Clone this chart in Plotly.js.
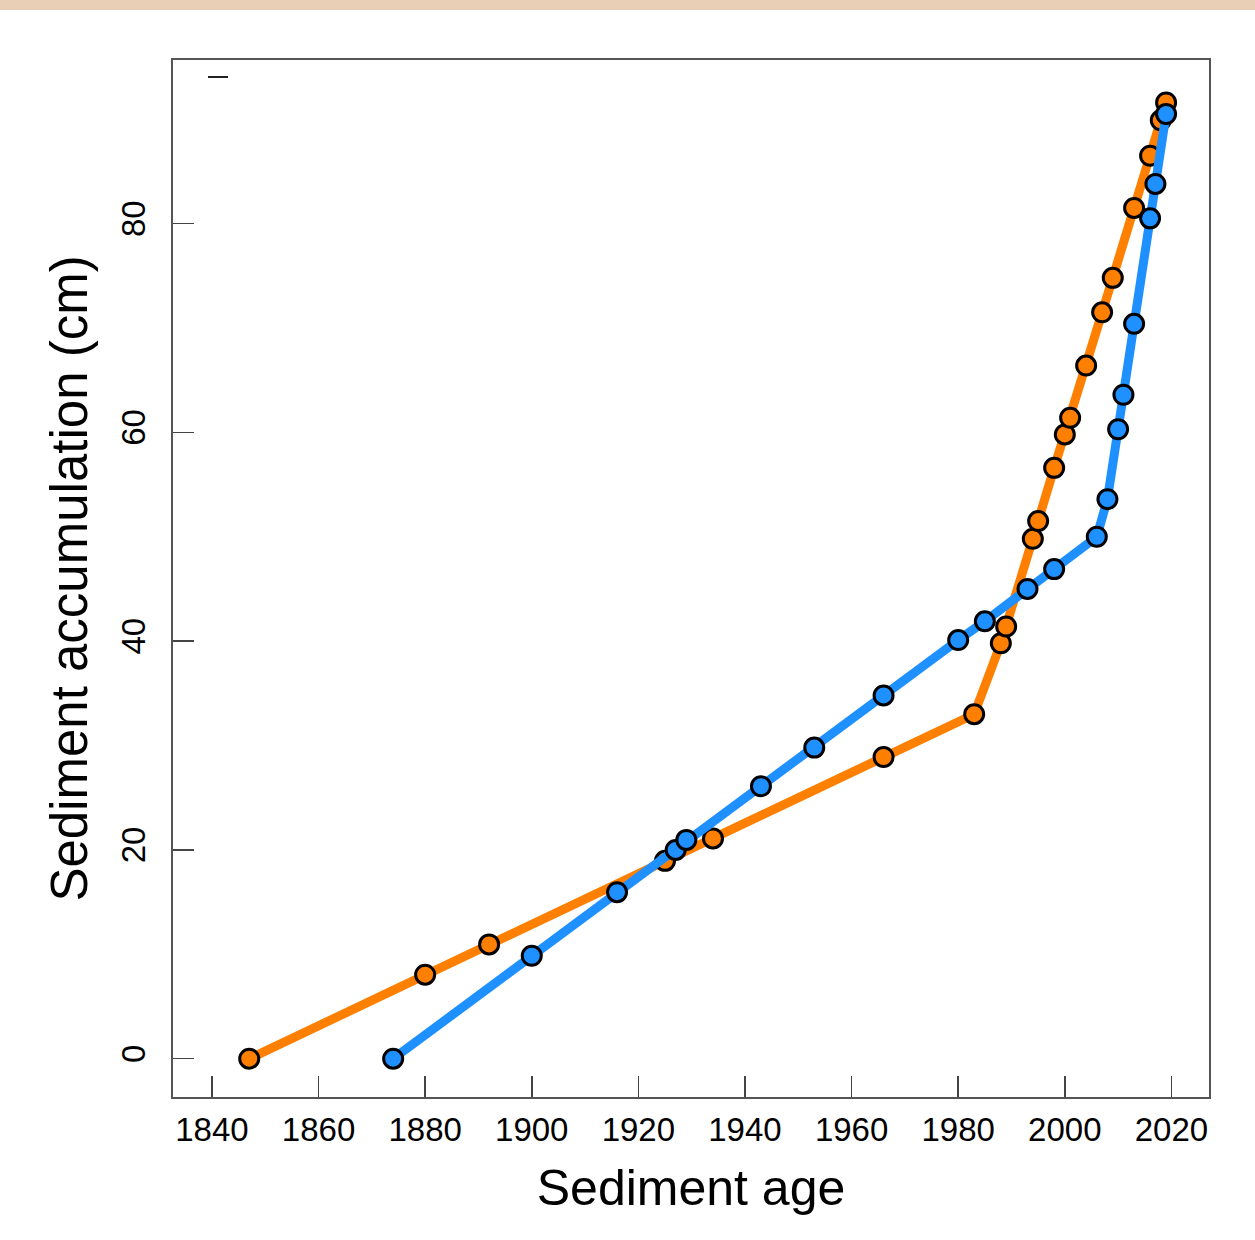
<!DOCTYPE html>
<html>
<head>
<meta charset="utf-8">
<script src="https://cdn.plot.ly/plotly-3.0.1.min.js"></script>
<style>
  html, body { margin: 0; padding: 0; background: #ffffff; }
  #chart { width: 1255px; height: 1240px; position: relative; }
  #strip { position: absolute; left: 0; top: 0; width: 1255px; height: 10px; background: #E8CFB6; z-index: 5; }
</style>
</head>
<body>
<div id="strip"></div>
<div id="chart"></div>
<script>
// Orange series
const orangeAge = [1847, 1880, 1892, 1925, 1934, 1966, 1983, 1988, 1989, 1994, 1995, 1998, 2000, 2001, 2004, 2007, 2009, 2013, 2016, 2018, 2019];
const orangeAcc = [0, 8.05, 10.95, 18.95, 21.1, 28.9, 33.0, 39.8, 41.4, 49.8, 51.5, 56.6, 59.8, 61.4, 66.4, 71.5, 74.8, 81.5, 86.5, 89.9, 91.6];
// Blue series
const blueAge = [1874, 1900, 1916, 1927, 1929, 1943, 1953, 1966, 1980, 1985, 1993, 1998, 2006, 2008, 2010, 2011, 2013, 2016, 2017, 2019];
const blueAcc = [0, 9.86, 15.95, 20.0, 20.96, 26.1, 29.8, 34.8, 40.1, 41.9, 45.0, 46.9, 50.0, 53.6, 60.3, 63.6, 70.4, 80.5, 83.8, 90.5];
// Tick labels
const xTicks = [1840, 1860, 1880, 1900, 1920, 1940, 1960, 1980, 2000, 2020];
const yTicks = [0, 20, 40, 60, 80];

const FONT = "Liberation Sans, Arial, Helvetica, sans-serif";

function series(x, y, color) {
  return {
    type: "scatter", mode: "lines+markers", x: x, y: y,
    line: { color: color, width: 9 },
    marker: { color: color, size: 19, line: { color: "#000000", width: 3 } },
    hoverinfo: "x+y", showlegend: false
  };
}

const data = [
  series(orangeAge, orangeAcc, "#FF7F00"),
  series(blueAge, blueAcc, "#1E90FF")
];

const layout = {
  width: 1255, height: 1240,
  margin: { l: 173, r: 46, t: 60, b: 143, pad: 0 },
  paper_bgcolor: "#ffffff", plot_bgcolor: "#ffffff",
  font: { family: FONT, color: "#000000", size: 33 },
  showlegend: false,
  xaxis: {
    range: [1832.7, 2027.05],
    tickmode: "array", tickvals: xTicks, ticktext: xTicks.map(String),
    ticks: "inside", ticklen: 21, tickwidth: 1.5, tickcolor: "#444",
    showline: true, mirror: true, linecolor: "#555", linewidth: 2,
    showgrid: false, zeroline: false,
    tickfont: { family: FONT, size: 33, color: "#000" },
    ticklabelstandoff: 2,
    title: { text: "Sediment age", font: { family: FONT, size: 50, color: "#000" }, standoff: 23 }
  },
  yaxis: {
    range: [-3.67, 95.67],
    tickmode: "array", tickvals: yTicks, ticktext: yTicks.map(String),
    ticks: "inside", ticklen: 21, tickwidth: 1.5, tickcolor: "#444",
    tickangle: -90,
    showline: true, mirror: true, linecolor: "#555", linewidth: 2,
    showgrid: false, zeroline: false,
    tickfont: { family: FONT, size: 33, color: "#000" },
    ticklabelstandoff: 13,
    title: { text: "Sediment accumulation (cm)", font: { family: FONT, size: 51, color: "#000" }, standoff: 11 }
  },
  shapes: [
    { type: "line", xref: "paper", yref: "paper", x0: 0.0338, x1: 0.0531, y0: 0.9836, y1: 0.9836,
      line: { color: "#222", width: 2 } }
  ]
};

Plotly.newPlot("chart", data, layout, { displayModeBar: false, staticPlot: true });
</script>
</body>
</html>
